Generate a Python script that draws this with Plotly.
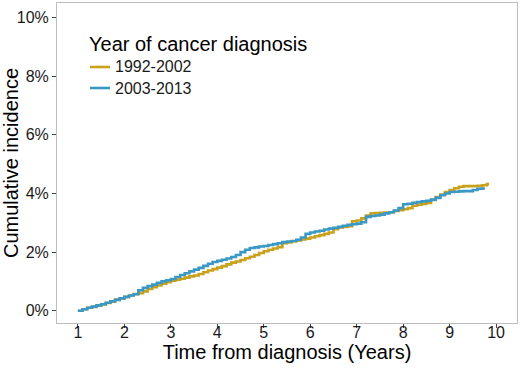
import plotly.graph_objects as go

# 1992-2002 cohort (time in years, cumulative incidence in %)
t_early = [1.0, 1.1, 1.2, 1.3, 1.4, 1.5, 1.6, 1.7, 1.8, 1.9, 2.0, 2.1, 2.2, 2.3, 2.4, 2.5, 2.6, 2.7, 2.8, 2.9,
           3.0, 3.1, 3.2, 3.3, 3.4, 3.5, 3.6, 3.7, 3.8, 3.9, 4.0, 4.1, 4.2, 4.3, 4.4, 4.5, 4.6, 4.7, 4.8, 4.9,
           5.0, 5.1, 5.2, 5.3, 5.4, 5.5, 5.6, 5.7, 5.8, 5.9, 6.0, 6.1, 6.2, 6.3, 6.4, 6.5, 6.6, 6.7, 6.8, 6.9,
           7.0, 7.1, 7.2, 7.3, 7.4, 7.5, 7.6, 7.7, 7.8, 7.9, 8.0, 8.1, 8.2, 8.3, 8.4, 8.5, 8.6, 8.7, 8.8, 8.9,
           9.0, 9.1, 9.2, 9.3, 9.4, 9.5, 9.6, 9.7, 9.8, 9.85]
ci_early = [0.0, 0.05, 0.10, 0.13, 0.17, 0.21, 0.26, 0.31, 0.38, 0.42, 0.47, 0.52, 0.57, 0.60, 0.66, 0.74, 0.80, 0.86, 0.92, 0.97,
            1.02, 1.06, 1.09, 1.13, 1.17, 1.20, 1.25, 1.31, 1.37, 1.42, 1.47, 1.52, 1.58, 1.64, 1.68, 1.73, 1.79, 1.84, 1.90, 1.97,
            2.03, 2.08, 2.12, 2.17, 2.30, 2.33, 2.37, 2.40, 2.43, 2.46, 2.50, 2.54, 2.58, 2.62, 2.67, 2.78, 2.84, 2.86, 2.88, 3.05,
            3.08, 3.15, 3.25, 3.32, 3.33, 3.34, 3.35, 3.36, 3.40, 3.43, 3.46, 3.50, 3.58, 3.62, 3.64, 3.68, 3.78, 3.88, 3.96, 4.05,
            4.12, 4.18, 4.23, 4.25, 4.25, 4.25, 4.26, 4.28, 4.32, 4.32]

# 2003-2013 cohort
t_late = [1.0, 1.1, 1.2, 1.3, 1.4, 1.5, 1.6, 1.7, 1.8, 1.9, 2.0, 2.1, 2.2, 2.3, 2.4, 2.5, 2.6, 2.7, 2.8, 2.9,
          3.0, 3.1, 3.2, 3.3, 3.4, 3.5, 3.6, 3.7, 3.8, 3.9, 4.0, 4.1, 4.2, 4.3, 4.4, 4.5, 4.6, 4.7, 4.8, 4.9,
          5.0, 5.1, 5.2, 5.3, 5.4, 5.5, 5.6, 5.7, 5.8, 5.9, 6.0, 6.1, 6.2, 6.3, 6.4, 6.5, 6.6, 6.7, 6.8, 6.9,
          7.0, 7.1, 7.2, 7.3, 7.4, 7.5, 7.6, 7.7, 7.8, 7.9, 8.0, 8.1, 8.2, 8.3, 8.4, 8.5, 8.6, 8.7, 8.8, 8.9,
          9.0, 9.1, 9.2, 9.3, 9.4, 9.5, 9.6, 9.7, 9.76]
ci_late = [0.0, 0.05, 0.10, 0.14, 0.18, 0.22, 0.27, 0.32, 0.37, 0.42, 0.47, 0.52, 0.56, 0.70, 0.78, 0.84, 0.89, 0.95, 1.00, 1.04,
           1.08, 1.15, 1.22, 1.28, 1.34, 1.40, 1.46, 1.53, 1.60, 1.66, 1.70, 1.74, 1.78, 1.83, 1.90, 2.00, 2.08, 2.14, 2.16, 2.19,
           2.21, 2.24, 2.27, 2.30, 2.34, 2.36, 2.38, 2.42, 2.50, 2.62, 2.67, 2.70, 2.73, 2.77, 2.80, 2.83, 2.86, 2.90, 2.93, 2.95,
           2.97, 3.02, 3.20, 3.23, 3.25, 3.28, 3.32, 3.36, 3.42, 3.50, 3.63, 3.65, 3.68, 3.71, 3.73, 3.75, 3.79, 3.85, 3.94, 4.00,
           4.05, 4.06, 4.07, 4.08, 4.08, 4.12, 4.16, 4.17, 4.17]

series_names = ["1992-2002", "2003-2013"]
colors = ["#C9A11B", "#3A98C4"]
legend_title = "Year of cancer diagnosis"

x_ticks = [1, 2, 3, 4, 5, 6, 7, 8, 9, 10]
y_ticks = [0, 2, 4, 6, 8, 10]
y_tick_labels = ["0%", "2%", "4%", "6%", "8%", "10%"]

FONT = "Liberation Sans, Arial, sans-serif"
W, H = 520, 368
ML, MR, MT, MB = 57, 3, 3, 45
PW, PH = W - ML - MR, H - MT - MB


def px_to_paper(px, py):
    return (px - ML) / PW, (H - MB - py) / PH


fig = go.Figure()
for name, t, ci, col in zip(series_names, [t_early, t_late], [ci_early, ci_late], colors):
    fig.add_trace(go.Scatter(x=t, y=ci, mode="lines", name=name, showlegend=False,
                             line=dict(color=col, width=2.6, shape="hv")))

# manual legend (ggplot-style compact keys)
tx, ty = px_to_paper(87, 44)
fig.add_annotation(x=tx, y=ty, xref="paper", yref="paper", xanchor="left", yanchor="middle",
                   text=legend_title, showarrow=False,
                   font=dict(family=FONT, size=20, color="#000000"))
for i, (name, col) in enumerate(zip(series_names, colors)):
    yc = 67 + 21 * i
    x0, y0 = px_to_paper(90, yc)
    x1, _ = px_to_paper(110, yc)
    fig.add_shape(type="line", xref="paper", yref="paper", x0=x0, x1=x1, y0=y0, y1=y0,
                  line=dict(color=col, width=2.6))
    lx, _ = px_to_paper(113, yc)
    fig.add_annotation(x=lx, y=y0, xref="paper", yref="paper", xanchor="left", yanchor="middle",
                       text=name, showarrow=False,
                       font=dict(family=FONT, size=16, color="#1a1a1a"))

axis_common = dict(showgrid=False, zeroline=False, showline=True, mirror=True,
                   linecolor="#BDBDBD", linewidth=1, ticks="outside", ticklen=4,
                   tickcolor="#444444", tickwidth=1,
                   tickfont=dict(family=FONT, size=16, color="#1a1a1a"))

fig.update_xaxes(range=[0.55, 10.45], tickvals=x_ticks, ticklabelstandoff=-9,
                 title=dict(text="Time from diagnosis (Years)", standoff=0,
                            font=dict(family=FONT, size=20, color="#000000")),
                 **axis_common)
fig.update_yaxes(range=[-0.42, 10.5], tickvals=y_ticks, ticktext=y_tick_labels,
                 title=dict(text="Cumulative incidence", standoff=6,
                            font=dict(family=FONT, size=20, color="#000000")),
                 **axis_common)

fig.update_layout(
    width=W, height=H,
    margin=dict(l=ML, r=MR, t=MT, b=MB, autoexpand=False),
    paper_bgcolor="white", plot_bgcolor="white",
    font=dict(family=FONT),
    showlegend=False,
)

fig.write_html("out.html", config={"displayModeBar": False},
               post_script="document.body.style.margin='0px';")
